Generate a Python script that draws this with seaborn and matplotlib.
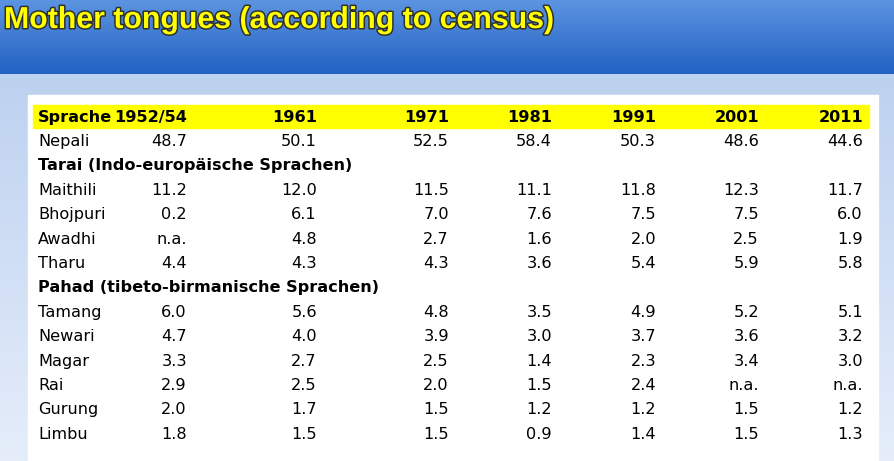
import numpy as np
import matplotlib
matplotlib.use("Agg")
import matplotlib.pyplot as plt
import matplotlib.patheffects as pe
import seaborn as sns

sns.set_theme(style="white")
plt.rcParams['font.family'] = ['DejaVu Sans']
plt.rcParams['font.sans-serif'] = ['DejaVu Sans']

title = "Mother tongues (according to census)"
years = ["1952/54", "1961", "1971", "1981", "1991", "2001", "2011"]
header_label = "Sprache"
rows = [
    ("Nepali", ["48.7", "50.1", "52.5", "58.4", "50.3", "48.6", "44.6"]),
    ("Tarai (Indo-europäische Sprachen)", None),
    ("Maithili", ["11.2", "12.0", "11.5", "11.1", "11.8", "12.3", "11.7"]),
    ("Bhojpuri", ["0.2", "6.1", "7.0", "7.6", "7.5", "7.5", "6.0"]),
    ("Awadhi", ["n.a.", "4.8", "2.7", "1.6", "2.0", "2.5", "1.9"]),
    ("Tharu", ["4.4", "4.3", "4.3", "3.6", "5.4", "5.9", "5.8"]),
    ("Pahad (tibeto-birmanische Sprachen)", None),
    ("Tamang", ["6.0", "5.6", "4.8", "3.5", "4.9", "5.2", "5.1"]),
    ("Newari", ["4.7", "4.0", "3.9", "3.0", "3.7", "3.6", "3.2"]),
    ("Magar", ["3.3", "2.7", "2.5", "1.4", "2.3", "3.4", "3.0"]),
    ("Rai", ["2.9", "2.5", "2.0", "1.5", "2.4", "n.a.", "n.a."]),
    ("Gurung", ["2.0", "1.7", "1.5", "1.2", "1.2", "1.5", "1.2"]),
    ("Limbu", ["1.8", "1.5", "1.5", "0.9", "1.4", "1.5", "1.3"]),
]
col_right = [187, 317, 449, 552, 656, 759, 863]

W, H = 894, 461
fig = plt.figure(figsize=(W/100, H/100), dpi=100)
ax = fig.add_axes([0, 0, 1, 1])
ax.set_xlim(0, W); ax.set_ylim(H, 0); ax.axis('off')

top = np.linspace(0, 1, 100)[:, None]
c1 = np.array([0.36, 0.58, 0.88]); c2 = np.array([0.13, 0.38, 0.76])
band = (c1 * (1 - top[..., None]) + c2 * top[..., None]) * np.ones((1, 2, 1))
ax.imshow(band, extent=[0, W, 75, 0], aspect='auto', zorder=0)
c3 = np.array([0.74, 0.82, 0.94]); c4 = np.array([0.90, 0.93, 0.98])
low = (c3 * (1 - top[..., None]) + c4 * top[..., None]) * np.ones((1, 2, 1))
ax.imshow(low, extent=[0, W, H, 75], aspect='auto', zorder=0)
ax.set_xlim(0, W); ax.set_ylim(H, 0)

ax.add_patch(plt.Rectangle((28, 95), 850, 370, color='white', zorder=1))
ax.add_patch(plt.Rectangle((33, 105), 836, 23, color='#ffff00', zorder=2))

ax.text(4, 20, title, color='#ffff00', fontsize=21.8, fontweight='bold',
        family='Liberation Sans', va='center', ha='left', zorder=3,
        path_effects=[pe.withStroke(linewidth=2.2, foreground='#303030')])

fs = 11.6
kw = dict(fontsize=fs, va='center', color='black', zorder=3, family='DejaVu Sans')
ax.text(38, 117, header_label, fontweight='bold', **kw)
for x, y in zip(col_right, years):
    ax.text(x, 117, y, fontweight='bold', ha='right', **kw)

y0, dy = 141.5, 24.4
for i, (lab, vals) in enumerate(rows):
    y = y0 + i * dy
    if vals is None:
        ax.text(38, y, lab, fontweight='bold', **kw)
        continue
    ax.text(38, y, lab, **kw)
    for x, v in zip(col_right, vals):
        ax.text(x, y, v, ha='right', **kw)

fig.savefig("out.png", dpi=100)
